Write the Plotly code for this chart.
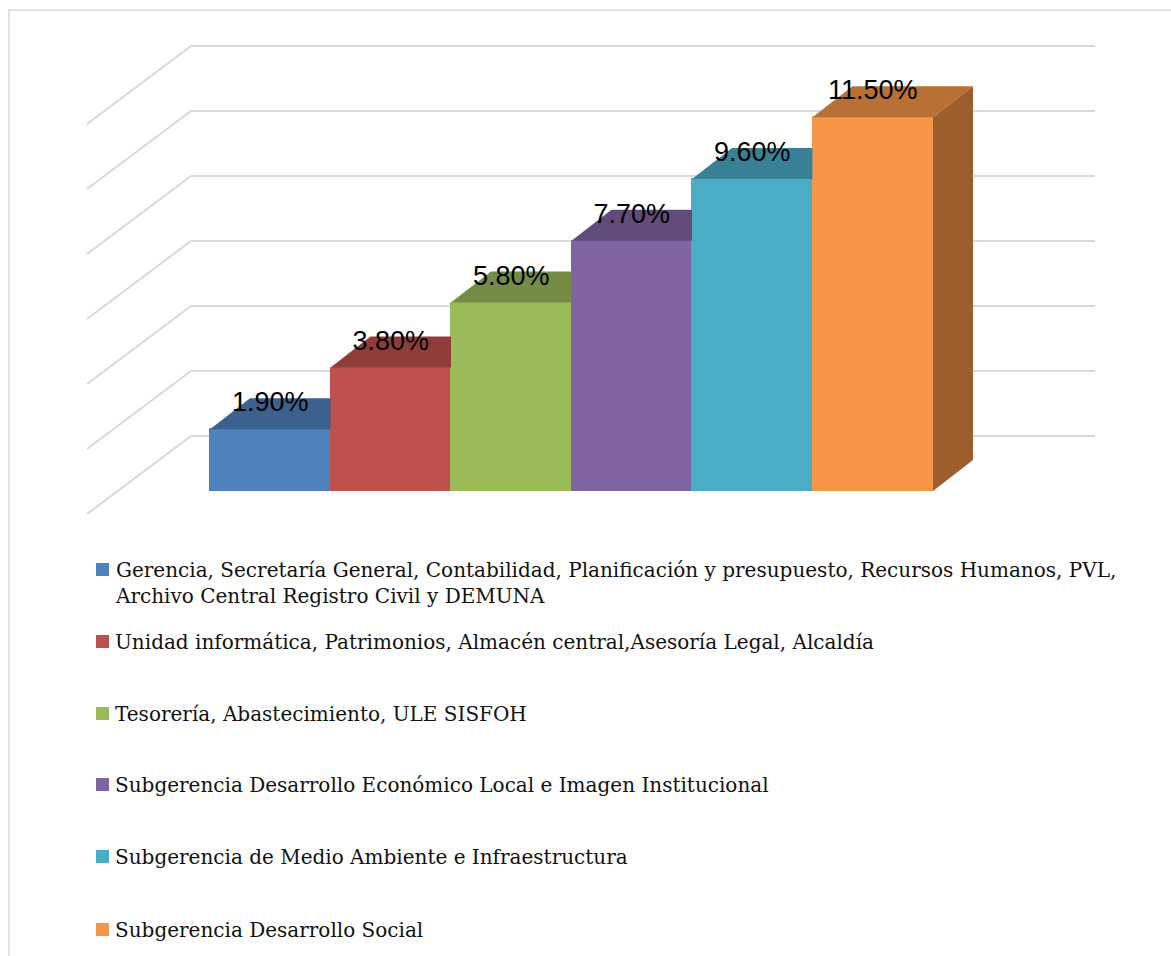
import plotly.graph_objects as go

# ---- data -------------------------------------------------------------
categories = [
    "Gerencia, Secretaría General, Contabilidad, Planificación y presupuesto, Recursos Humanos, PVL, Archivo Central Registro Civil y DEMUNA",
    "Unidad informática, Patrimonios, Almacén central,Asesoría Legal, Alcaldía",
    "Tesorería, Abastecimiento, ULE SISFOH",
    "Subgerencia Desarrollo Económico Local e Imagen Institucional",
    "Subgerencia de Medio Ambiente e Infraestructura",
    "Subgerencia Desarrollo Social",
]
values = [1.9, 3.8, 5.8, 7.7, 9.6, 11.5]
value_labels = ["1.90%", "3.80%", "5.80%", "7.70%", "9.60%", "11.50%"]
wall_ticks = [0, 2, 4, 6, 8, 10, 12]

# ---- styling ----------------------------------------------------------
front_colors = ["#4F81BD", "#C0504D", "#9BBB59", "#8064A2", "#4BACC6", "#F79646"]
GRID = "#D9D9D9"
W, H = 1171, 956

# pixel geometry of the plotting frame (axis ranges map data -> pixels)
PX_CAT = 120.5      # one category = one bar width
X0_PX = 210.0       # left edge of first bar
PX_PCT = 32.5       # pixels per percentage point
Y0_PX = 491.0       # baseline of bar fronts

# oblique depth offsets (data units)
BAR_DX, BAR_DY = 40 / PX_CAT, 31 / PX_PCT
WALL_FRONT_X, WALL_BACK_X, WALL_RIGHT_X = -1.521, -0.658, 6.844
WALL_FRONT_DY, WALL_BACK_DY = -0.708, 1.692


def shade(hex_color, k):
    r, g, b = (int(hex_color[i:i + 2], 16) for i in (1, 3, 5))
    return "#%02X%02X%02X" % (round(r * k), round(g * k), round(b * k))


fig = go.Figure()

# bar fronts
for i, (cat, v, c) in enumerate(zip(categories, values, front_colors)):
    fig.add_trace(go.Bar(x=[i], y=[v], width=1.0, marker=dict(color=c, line=dict(width=1, color=c)),
                         name=cat, showlegend=False, hoverinfo="skip"))

# top faces and right side faces (clipped where the next front hides them)
n = len(values)
for i, (v, c) in enumerate(zip(values, front_colors)):
    hidden = i + 1 < n and values[i + 1] >= v + BAR_DY
    xl, xr = i - 0.5, i + 0.5
    if hidden:
        tx = [xl, xr, xr, xl + BAR_DX, xl]
        ty = [v, v, v + BAR_DY, v + BAR_DY, v]
    else:
        tx = [xl, xr, xr + BAR_DX, xl + BAR_DX, xl]
        ty = [v, v, v + BAR_DY, v + BAR_DY, v]
    fig.add_trace(go.Scatter(x=tx, y=ty, fill="toself", mode="lines",
                             line=dict(width=0, color=shade(c, 0.75)),
                             fillcolor=shade(c, 0.75), showlegend=False, hoverinfo="skip"))
    if not hidden:
        sx = [xr, xr + BAR_DX, xr + BAR_DX, xr, xr]
        sy = [0, BAR_DY, v + BAR_DY, v, 0]
        fig.add_trace(go.Scatter(x=sx, y=sy, fill="toself", mode="lines",
                                 line=dict(width=0, color=shade(c, 0.63)),
                                 fillcolor=shade(c, 0.63), showlegend=False, hoverinfo="skip"))

# value labels
fig.add_trace(go.Scatter(
    x=list(range(n)), y=[v + 0.76 for v in values], mode="text", text=value_labels,
    textposition="middle center", textfont=dict(family="Liberation Sans, Arial", size=27, color="#000000"),
    showlegend=False, hoverinfo="skip"))

shapes = []
# side wall and back wall gridlines
for t in wall_ticks:
    shapes.append(dict(type="line", xref="x", yref="y", layer="below",
                       x0=WALL_FRONT_X, y0=t + WALL_FRONT_DY, x1=WALL_BACK_X, y1=t + WALL_BACK_DY,
                       line=dict(color=GRID, width=2)))
    shapes.append(dict(type="line", xref="x", yref="y", layer="below",
                       x0=WALL_BACK_X, y0=t + WALL_BACK_DY, x1=WALL_RIGHT_X, y1=t + WALL_BACK_DY,
                       line=dict(color=GRID, width=2)))

# chart frame
shapes.append(dict(type="rect", xref="paper", yref="paper", layer="below",
                   x0=9 / W, y0=-0.02, x1=1.02, y1=1 - 10 / H,
                   line=dict(color=GRID, width=1.5), fillcolor="rgba(0,0,0,0)"))

# legend
annotations = []
legend_rows = [569.5, 641.5, 713.5, 784.5, 856.5, 929.5]
wrapped = [categories[0].replace("PVL, ", "PVL,<br>")] + categories[1:]
for row_y, txt, c in zip(legend_rows, wrapped, front_colors):
    shapes.append(dict(type="rect", xref="paper", yref="paper",
                       x0=96 / W, x1=109 / W, y0=1 - (row_y + 6.5) / H, y1=1 - (row_y - 6.5) / H,
                       fillcolor=c, line=dict(width=0)))
    annotations.append(dict(xref="paper", yref="paper", x=113 / W, y=1 - (row_y - 14) / H,
                            xanchor="left", yanchor="top", align="left", showarrow=False,
                            text=txt, font=dict(family="DejaVu Serif", size=20, color="#111111")))

fig.update_layout(
    width=W, height=H, margin=dict(l=0, r=0, t=0, b=0),
    paper_bgcolor="white", plot_bgcolor="white",
    barmode="overlay", bargap=0,
    xaxis=dict(range=[(0 - X0_PX) / PX_CAT - 0.5, (W - X0_PX) / PX_CAT - 0.5],
               visible=False, fixedrange=True),
    yaxis=dict(range=[(Y0_PX - H) / PX_PCT, Y0_PX / PX_PCT], visible=False, fixedrange=True),
    shapes=shapes, annotations=annotations,
)

fig.write_html("out.html")
